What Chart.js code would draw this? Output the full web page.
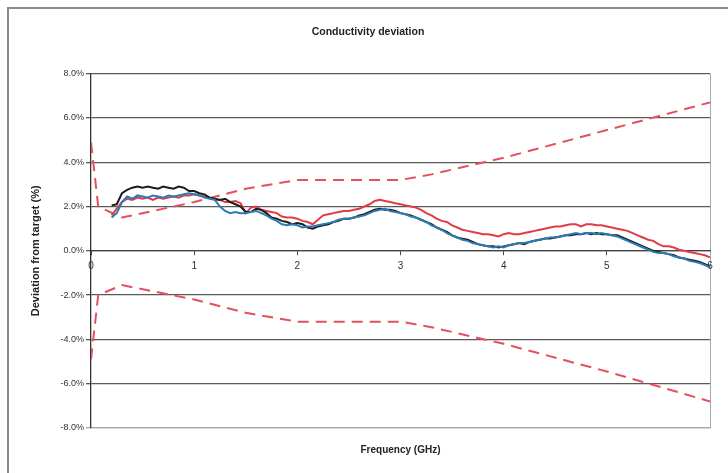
<!DOCTYPE html>
<html>
<head>
<meta charset="utf-8">
<script src="https://cdn.jsdelivr.net/npm/chart.js@4"></script>
<style>
  html, body { margin: 0; padding: 0; background: #fff; }
  #wrap { position: relative; width: 728px; height: 473px; overflow: hidden; }
  #frame { position: absolute; left: 7px; top: 7px; width: 760px; height: 500px;
           border-left: 2px solid #8a8a8a; border-top: 2px solid #8a8a8a; pointer-events: none; }
</style>
</head>
<body>
<div id="wrap">
  <canvas id="chart" width="728" height="473"></canvas>
  <div id="frame"></div>
</div>
<script>
// measured curves, sampled every 0.05 GHz
const freq = [
  0.20, 0.25, 0.30, 0.35, 0.40, 0.45, 0.50, 0.55, 0.60, 0.65,
  0.70, 0.75, 0.80, 0.85, 0.90, 0.95, 1.00, 1.05, 1.10, 1.15,
  1.20, 1.25, 1.30, 1.35, 1.40, 1.45, 1.50, 1.55, 1.60, 1.65,
  1.70, 1.75, 1.80, 1.85, 1.90, 1.95, 2.00, 2.05, 2.10, 2.15,
  2.20, 2.25, 2.30, 2.35, 2.40, 2.45, 2.50, 2.55, 2.60, 2.65,
  2.70, 2.75, 2.80, 2.85, 2.90, 2.95, 3.00, 3.05, 3.10, 3.15,
  3.20, 3.25, 3.30, 3.35, 3.40, 3.45, 3.50, 3.55, 3.60, 3.65,
  3.70, 3.75, 3.80, 3.85, 3.90, 3.95, 4.00, 4.05, 4.10, 4.15,
  4.20, 4.25, 4.30, 4.35, 4.40, 4.45, 4.50, 4.55, 4.60, 4.65,
  4.70, 4.75, 4.80, 4.85, 4.90, 4.95, 5.00, 5.05, 5.10, 5.15,
  5.20, 5.25, 5.30, 5.35, 5.40, 5.45, 5.50, 5.55, 5.60, 5.65,
  5.70, 5.75, 5.80, 5.85, 5.90, 5.95, 6.00
];

const blackCurve = [
  2.05, 2.1, 2.6, 2.75, 2.85, 2.9, 2.85, 2.9, 2.85, 2.8,
  2.9, 2.85, 2.8, 2.9, 2.85, 2.7, 2.7, 2.6, 2.55, 2.4,
  2.35, 2.3, 2.35, 2.2, 2.1, 2.0, 1.75, 1.75, 1.9, 1.85,
  1.7, 1.5, 1.45, 1.35, 1.3, 1.2, 1.25, 1.2, 1.05, 1.0,
  1.1, 1.15, 1.2, 1.3, 1.35, 1.45, 1.45, 1.5, 1.6, 1.65,
  1.75, 1.85, 1.9, 1.85, 1.85, 1.8, 1.7, 1.65, 1.6, 1.5,
  1.4, 1.3, 1.2, 1.05, 0.95, 0.85, 0.7, 0.6, 0.55, 0.5,
  0.4, 0.3, 0.25, 0.2, 0.2, 0.15, 0.2, 0.25, 0.3, 0.35,
  0.3, 0.4, 0.45, 0.5, 0.55, 0.55, 0.6, 0.65, 0.7, 0.7,
  0.75, 0.75, 0.8, 0.75, 0.8, 0.75, 0.75, 0.7, 0.7, 0.6,
  0.5, 0.4, 0.3, 0.2, 0.1, 0.0, -0.05, -0.1, -0.15, -0.2,
  -0.3, -0.35, -0.4, -0.45, -0.5, -0.6, -0.7
];

const blueCurve = [
  1.5, 1.7, 2.2, 2.45, 2.35, 2.5, 2.45, 2.4, 2.5, 2.45,
  2.4, 2.5, 2.45, 2.5, 2.55, 2.6, 2.55, 2.5, 2.4, 2.35,
  2.3, 2.0, 1.8, 1.7, 1.75, 1.7, 1.7, 1.75, 1.8, 1.7,
  1.6, 1.45, 1.35, 1.2, 1.15, 1.2, 1.15, 1.05, 1.1, 1.1,
  1.15, 1.2, 1.25, 1.3, 1.4, 1.45, 1.45, 1.5, 1.55, 1.6,
  1.7, 1.8, 1.85, 1.9, 1.8, 1.75, 1.7, 1.65, 1.55, 1.5,
  1.4, 1.3, 1.15, 1.05, 0.95, 0.8, 0.7, 0.6, 0.5, 0.45,
  0.35, 0.3, 0.25, 0.2, 0.15, 0.2, 0.15, 0.25, 0.3, 0.35,
  0.35, 0.4, 0.45, 0.5, 0.55, 0.6, 0.6, 0.65, 0.7, 0.75,
  0.8, 0.75, 0.8, 0.8, 0.75, 0.8, 0.75, 0.7, 0.65, 0.55,
  0.45, 0.35, 0.25, 0.15, 0.05, -0.05, -0.1, -0.1, -0.15, -0.25,
  -0.3, -0.35, -0.45, -0.5, -0.55, -0.65, -0.75
];

const redCurve = [
  1.6, 1.9, 2.2, 2.35, 2.3, 2.4, 2.35, 2.4, 2.3, 2.4,
  2.35, 2.4, 2.45, 2.4, 2.5, 2.5, 2.55, 2.5, 2.45, 2.4,
  2.3, 2.3, 2.2, 2.2, 2.25, 2.15, 1.7, 1.95, 2.0, 1.85,
  1.8, 1.75, 1.7, 1.55, 1.5, 1.5, 1.45, 1.35, 1.3, 1.2,
  1.4, 1.6, 1.65, 1.7, 1.75, 1.8, 1.8, 1.85, 1.9, 2.0,
  2.1, 2.25, 2.3, 2.25, 2.2, 2.15, 2.1, 2.05, 2.0, 1.95,
  1.85, 1.7, 1.6, 1.45, 1.35, 1.3, 1.15, 1.05, 0.95, 0.9,
  0.85, 0.8, 0.75, 0.75, 0.7, 0.65, 0.75, 0.8, 0.75, 0.75,
  0.8, 0.85, 0.9, 0.95, 1.0, 1.05, 1.1, 1.1, 1.15, 1.2,
  1.2, 1.1, 1.2, 1.2, 1.15, 1.15, 1.1, 1.05, 1.0, 0.95,
  0.9, 0.8, 0.7, 0.6, 0.5, 0.45, 0.3, 0.2, 0.2, 0.15,
  0.05, 0.0, -0.05, -0.1, -0.15, -0.2, -0.3
];

// tolerance limits (dashed)
const limitFreq  = [0, 0.07, 0.3, 1, 1.5, 2, 3, 3.3, 4, 5, 6];
const upperLimit = [4.9, 2.0, 1.5, 2.2, 2.8, 3.2, 3.2, 3.45, 4.2, 5.45, 6.7];
const lowerLimit = [-4.9, -2.0, -1.55, -2.2, -2.8, -3.2, -3.2, -3.45, -4.2, -5.45, -6.8];

const yTicks = [-8, -6, -4, -2, 0, 2, 4, 6, 8];

const pts = (xs, ys) => xs.map((x, i) => ({ x: x, y: ys[i] }));

const FONT = 'Liberation Sans, Arial, sans-serif';

const curve = (data, color) => ({
  data: data,
  borderColor: color,
  borderWidth: 2,
  pointRadius: 0,
  tension: 0,
  fill: false
});

const limit = (data) => ({
  data: data,
  borderColor: '#e4505e',
  borderWidth: 2,
  borderDash: [11, 7],
  pointRadius: 0,
  tension: 0,
  fill: false
});

new Chart(document.getElementById('chart'), {
  type: 'line',
  data: {
    datasets: [
      curve(pts(freq, blueCurve), '#2b7bb5'),
      curve(pts(freq, blackCurve), '#1c1c1c'),
      curve(pts(freq, redCurve), '#e23a46'),
      limit(pts(limitFreq, upperLimit)),
      limit(pts(limitFreq, lowerLimit))
    ]
  },
  options: {
    responsive: false,
    animation: false,
    layout: { padding: { left: 26, right: 18, top: 0, bottom: 0 } },
    plugins: {
      legend: { display: false },
      tooltip: { enabled: false },
      title: {
        display: true,
        text: 'Conductivity deviation',
        color: '#222',
        font: { family: FONT, size: 10.5, weight: 'bold' },
        padding: { top: 26, bottom: 35 }
      }
    },
    scales: {
      x: {
        type: 'linear',
        position: { y: 0 },
        min: 0,
        max: 6,
        ticks: { stepSize: 1, color: '#333', font: { family: FONT, size: 10 }, padding: 5 },
        grid: { drawOnChartArea: false, drawTicks: true, tickLength: 4, color: '#444' },
        border: { display: true, color: '#444', width: 1.2 }
      },
      xb: {
        type: 'linear',
        position: 'bottom',
        min: 0,
        max: 6,
        ticks: { display: false, stepSize: 1 },
        grid: {
          drawTicks: false,
          color: (c) => (c.tick && c.tick.value === 6 ? '#a8a8a8' : 'transparent')
        },
        border: { display: true, color: '#a8a8a8', width: 1.2 },
        title: {
          display: true,
          text: 'Frequency (GHz)',
          color: '#222',
          font: { family: FONT, size: 10, weight: 'bold' },
          padding: { top: 0, bottom: 17 }
        },
        afterFit: (s) => { s.height = 45; }
      },
      y: {
        min: -8,
        max: 8,
        afterBuildTicks: (s) => { s.ticks = yTicks.map(v => ({ value: v })); },
        ticks: {
          color: '#333',
          font: { family: FONT, size: 9 },
          padding: 2,
          callback: (v) => v.toFixed(1) + '%'
        },
        grid: {
          tickLength: 5,
          lineWidth: 1.3,
          color: (c) => (c.tick && c.tick.value === -8 ? '#a8a8a8' : '#5a5a5a')
        },
        border: { display: true, color: '#333', width: 1.3 },
        title: {
          display: true,
          text: 'Deviation from target (%)',
          color: '#222',
          font: { family: FONT, size: 11, weight: 'bold' },
          padding: { top: 3, bottom: 0 }
        },
        afterFit: (s) => { s.width = 65; }
      }
    }
  }
});
</script>
</body>
</html>
